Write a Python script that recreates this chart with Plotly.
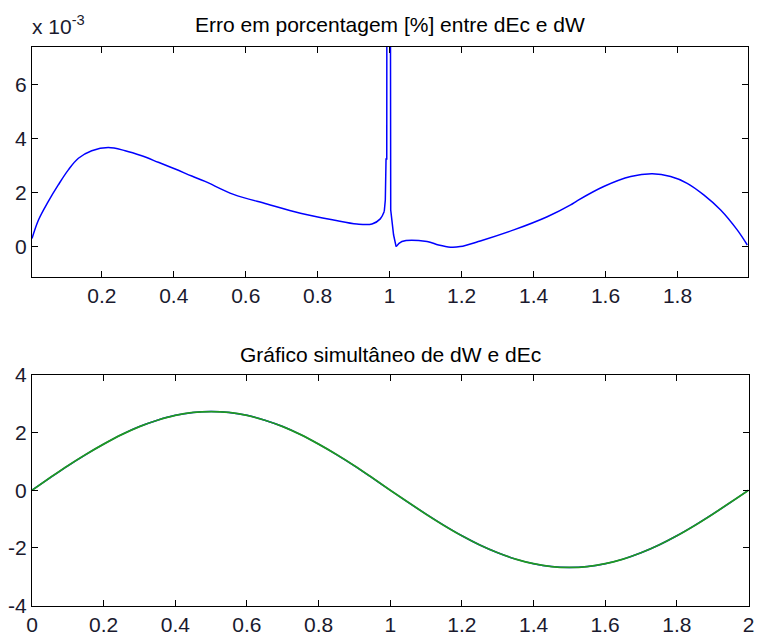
import plotly.graph_objects as go

# Top panel: percentage error (values in units of 1e-3)
err_x = [0.006, 0.024, 0.051, 0.079, 0.107, 0.135, 0.172, 0.218, 0.265, 0.311,
         0.357, 0.404, 0.45, 0.487, 0.566, 0.659, 0.752, 0.844, 0.909, 0.951,
         0.974, 0.985, 0.988, 0.990, 0.992, 0.9935, 0.999, 1.003, 1.011, 1.018,
         1.034, 1.104, 1.136, 1.169, 1.196, 1.252, 1.345, 1.438, 1.503, 1.521,
         1.595, 1.670, 1.730, 1.781, 1.827, 1.873, 1.920, 1.966, 1.994]
err_y = [0.30, 0.99, 1.67, 2.29, 2.85, 3.28, 3.56, 3.68, 3.56, 3.37,
         3.13, 2.88, 2.62, 2.42, 1.94, 1.58, 1.24, 0.99, 0.84, 0.84,
         1.03, 1.30, 1.73, 3.25, 3.25, 40.0, 40.0, 1.36, 0.43, 0.0,
         0.19, 0.19, 0.06, -0.02, 0.0, 0.21, 0.62, 1.11, 1.55, 1.70,
         2.23, 2.60, 2.70, 2.60, 2.35, 1.92, 1.36, 0.62, 0.06]

# Bottom panel: dW and dEc
t = [0.0, 0.05, 0.1, 0.15, 0.2, 0.25, 0.3, 0.35, 0.4, 0.45, 0.5,
     0.55, 0.6, 0.65, 0.7, 0.75, 0.8, 0.85, 0.9, 0.95, 1.0,
     1.05, 1.1, 1.15, 1.2, 1.25, 1.3, 1.35, 1.4, 1.45, 1.5,
     1.55, 1.6, 1.65, 1.7, 1.75, 1.8, 1.85, 1.9, 1.95, 2.0]
dW = [0.0, 0.43, 0.85, 1.24, 1.60, 1.93, 2.21, 2.43, 2.60, 2.70, 2.73,
      2.70, 2.60, 2.43, 2.21, 1.93, 1.60, 1.24, 0.85, 0.43, 0.0,
      -0.42, -0.83, -1.22, -1.58, -1.90, -2.17, -2.39, -2.55, -2.65, -2.68,
      -2.65, -2.55, -2.39, -2.17, -1.90, -1.58, -1.22, -0.83, -0.42, 0.0]
dEc = [0.0, 0.43, 0.85, 1.24, 1.60, 1.93, 2.21, 2.43, 2.60, 2.70, 2.73,
       2.70, 2.60, 2.43, 2.21, 1.93, 1.60, 1.24, 0.85, 0.43, 0.0,
       -0.42, -0.83, -1.22, -1.58, -1.90, -2.17, -2.39, -2.55, -2.65, -2.68,
       -2.65, -2.55, -2.39, -2.17, -1.90, -1.58, -1.22, -0.83, -0.42, 0.0]

top_xticks = [0.2, 0.4, 0.6, 0.8, 1.0, 1.2, 1.4, 1.6, 1.8]
top_xlabels = ["0.2", "0.4", "0.6", "0.8", "1", "1.2", "1.4", "1.6", "1.8"]
top_yticks = [0, 2, 4, 6]
top_ylabels = ["0", "2", "4", "6"]
bot_xticks = [0, 0.2, 0.4, 0.6, 0.8, 1.0, 1.2, 1.4, 1.6, 1.8, 2.0]
bot_xlabels = ["0", "0.2", "0.4", "0.6", "0.8", "1", "1.2", "1.4", "1.6", "1.8", "2"]
bot_yticks = [-4, -2, 0, 2, 4]
bot_ylabels = ["-4", "-2", "0", "2", "4"]

W, H = 757, 635
FONT = "Arial, Liberation Sans, sans-serif"
fs = 21
BLUE = "#0000ff"

fig = go.Figure()
# smooth part before the spike, the spike itself, smooth part after
i1 = err_x.index(0.985) + 1
i2 = err_x.index(1.018)
line_err = dict(color=BLUE, width=1.5)
fig.add_trace(go.Scatter(x=err_x[:i1], y=err_y[:i1], mode="lines", line_shape="spline",
                         line=line_err, xaxis="x", yaxis="y", showlegend=False))
fig.add_trace(go.Scatter(x=err_x[i1 - 1:i2 + 1], y=err_y[i1 - 1:i2 + 1], mode="lines",
                         line=line_err, xaxis="x", yaxis="y", showlegend=False))
fig.add_trace(go.Scatter(x=err_x[i2:], y=err_y[i2:], mode="lines", line_shape="spline",
                         line=line_err, xaxis="x", yaxis="y", showlegend=False))
fig.add_trace(go.Scatter(x=t, y=dEc, mode="lines", line_shape="spline",
                         line=dict(color=BLUE, width=1.5),
                         xaxis="x2", yaxis="y2", showlegend=False))
fig.add_trace(go.Scatter(x=t, y=dW, mode="lines", line_shape="spline",
                         line=dict(color="#1f9a1f", width=1.8),
                         xaxis="x2", yaxis="y2", showlegend=False))

ax_common = dict(showline=True, linecolor="black", linewidth=1, mirror="ticks",
                 ticks="inside", ticklen=6, tickcolor="black", tickwidth=1,
                 showgrid=False, zeroline=False, automargin=False,
                 tickfont=dict(family=FONT, size=fs, color="#1a1a2e"))

fig.update_layout(
    template="none",
    width=W, height=H,
    margin=dict(l=0, r=0, t=0, b=0, pad=0, autoexpand=False),
    paper_bgcolor="white", plot_bgcolor="white",
    xaxis=dict(domain=[32 / W, 748 / W], range=[0.006, 1.996],
               tickvals=top_xticks, ticktext=top_xlabels, anchor="y", **ax_common),
    yaxis=dict(domain=[1 - 276.5 / H, 1 - 47 / H], range=[-1.11, 7.41],
               tickvals=top_yticks, ticktext=top_ylabels, anchor="x", **ax_common),
    xaxis2=dict(domain=[32 / W, 748.5 / W], range=[0, 2],
                tickvals=bot_xticks, ticktext=bot_xlabels, anchor="y2", **ax_common),
    yaxis2=dict(domain=[1 - 605.5 / H, 1 - 375 / H], range=[-4, 4],
                tickvals=bot_yticks, ticktext=bot_ylabels, anchor="x2", **ax_common),
    annotations=[
        dict(text="Erro em porcentagem [%] entre dEc e dW", x=390 / W, y=1 - 24 / H,
             xref="paper", yref="paper", showarrow=False, xanchor="center", yanchor="middle",
             font=dict(family=FONT, size=fs, color="black")),
        dict(text="Gráfico simultâneo de dW e dEc", x=390 / W, y=1 - 354 / H,
             xref="paper", yref="paper", showarrow=False, xanchor="center", yanchor="middle",
             font=dict(family=FONT, size=fs, color="black")),
        dict(text="x 10<sup>-3</sup>", x=30 / W, y=1 - 40 / H,
             xref="paper", yref="paper", showarrow=False, xanchor="left", yanchor="bottom",
             font=dict(family=FONT, size=fs, color="#1a1a2e")),
    ],
)

fig.write_html("out.html")
